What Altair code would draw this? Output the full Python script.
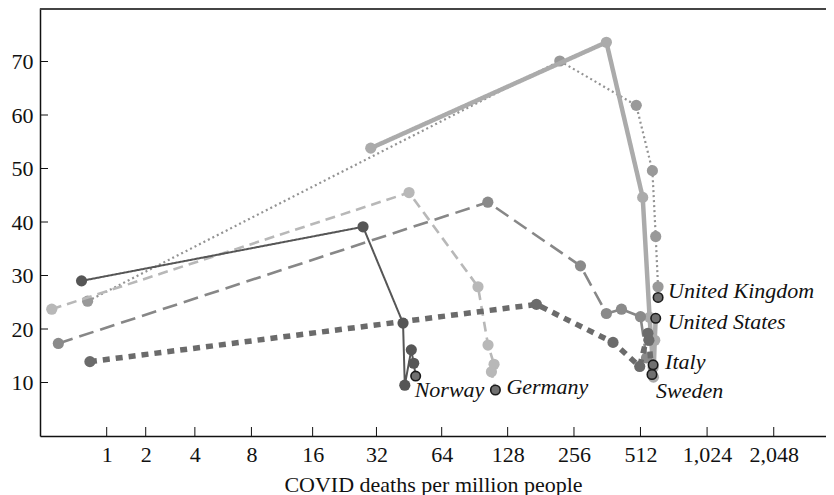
import altair as alt
import pandas as pd

countries = ["United Kingdom", "United States", "Germany", "Italy", "Sweden", "Norway"]

norway_x = [0.54, 27.7, 42.5, 43.3, 46.4, 47.6, 48.6]
norway_y = [29.0, 39.1, 21.1, 9.5, 16.1, 13.6, 11.2]

germany_x = [0.13, 45.3, 93.8, 104.2, 111.0, 108.0, 112.6]
germany_y = [23.7, 45.5, 27.9, 17.0, 13.4, 12.0, 8.6]

uk_x = [0.64, 220.8, 490.0, 579.6, 600.0, 614.6, 615.0]
uk_y = [25.2, 70.1, 61.8, 49.6, 37.3, 27.9, 25.9]

us_x = [30.1, 359.0, 524.0, 563.0, 584.0, 586.0, 594.0, 600.0]
us_y = [53.8, 73.6, 44.6, 22.2, 12.8, 11.0, 17.9, 22.0]

italy_x = [0.21, 104.0, 274.0, 359.0, 420.0, 512.0, 545.0, 584.0]
italy_y = [17.3, 43.7, 31.8, 22.9, 23.7, 22.3, 14.6, 13.3]

sweden_x = [0.68, 173.0, 384.6, 508.0, 553.0, 559.0, 577.0]
sweden_y = [13.9, 24.6, 17.5, 13.0, 19.2, 17.9, 11.5]

x_ticks = [1, 2, 4, 8, 16, 32, 64, 128, 256, 512, 1024, 2048]
y_ticks = [10, 20, 30, 40, 50, 60, 70]

series = {
    "Norway": (norway_x, norway_y),
    "Germany": (germany_x, germany_y),
    "United Kingdom": (uk_x, uk_y),
    "United States": (us_x, us_y),
    "Italy": (italy_x, italy_y),
    "Sweden": (sweden_x, sweden_y),
}

rows = []
for c, (xs, ys) in series.items():
    n = len(xs)
    for i, (xv, yv) in enumerate(zip(xs, ys)):
        rows.append({"country": c, "step": i, "deaths": xv, "value": yv, "last": i == n - 1})
df = pd.DataFrame(rows)

style = {
    "United Kingdom": dict(color="#939393", dash=[2, 3], width=2.2, pt="#999999"),
    "United States": dict(color="#ababab", dash=[1, 0], width=4.5, pt="#ababab"),
    "Germany": dict(color="#b8b8b8", dash=[10, 6], width=2.6, pt="#b8b8b8"),
    "Italy": dict(color="#878787", dash=[15, 7], width=2.6, pt="#8a8a8a"),
    "Sweden": dict(color="#6b6b6b", dash=[7, 6], width=5.5, pt="#6b6b6b"),
    "Norway": dict(color="#565656", dash=[1, 0], width=2.0, pt="#565656"),
}

W, H = 786, 428
FONT = "Liberation Serif"
FS = 22

xscale = alt.Scale(type="symlog", constant=1, domain=[0, 3526], nice=False, zero=False)
yscale = alt.Scale(domain=[0, 80], nice=False, zero=False)

xaxis = alt.Axis(values=x_ticks, format=",d", title="COVID deaths per million people",
                 ticks=False, grid=False, labelPadding=8, titlePadding=9,
                 labelFlush=False, labelOverlap=False)
yaxis = alt.Axis(values=y_ticks, title=None, ticks=False, grid=False, labelPadding=7)


def X(field="deaths"):
    return alt.X(f"{field}:Q", scale=xscale, axis=xaxis, title="COVID deaths per million people")


def Y(field="value"):
    return alt.Y(f"{field}:Q", scale=yscale, axis=yaxis, title=None)


layers = []
for c in countries:
    s = style[c]
    sub = alt.Chart(df).transform_filter(alt.datum.country == c)
    line = sub.mark_line(color=s["color"], strokeDash=s["dash"], strokeWidth=s["width"],
                         strokeCap="butt", strokeJoin="round").encode(
        x=X(), y=Y(), order="step:Q")
    pts = sub.transform_filter(alt.datum.last == False).mark_circle(
        color=s["pt"], opacity=1, size=125).encode(x=X(), y=Y())
    layers += [line, pts]

last_pts = alt.Chart(df).transform_filter(alt.datum.last == True).mark_point(
    filled=True, fill="#707070", stroke="#1a1a1a", strokeWidth=1.6, size=90, opacity=1
).encode(x=X(), y=Y())
layers.append(last_pts)

label_offsets = {
    "United Kingdom": (10, -6),
    "United States": (12, 4),
    "Italy": (12, -3),
    "Sweden": (4, 17),
    "Norway": (-1, 14),
    "Germany": (11, -3),
}
for c, (dx, dy) in label_offsets.items():
    t = alt.Chart(df).transform_filter((alt.datum.country == c) & (alt.datum.last == True)).mark_text(
        align="left", baseline="middle", dx=dx, dy=dy, font=FONT, fontSize=FS,
        fontStyle="italic", color="#111111"
    ).encode(x=X(), y=Y(), text="country:N")
    layers.append(t)

xt = pd.DataFrame({"deaths": x_ticks})
yt = pd.DataFrame({"value": y_ticks})
xtick_rules = alt.Chart(xt).mark_rule(color="#111111", strokeWidth=1).encode(
    x=X(), y=alt.value(H - 9), y2=alt.value(H))
ytick_rules = alt.Chart(yt).mark_rule(color="#111111", strokeWidth=1).encode(
    y=Y(), x=alt.value(0), x2=alt.value(8))
top_rule = alt.Chart(yt).mark_rule(color="#444444", strokeWidth=2).encode(
    y=alt.value(0.5), x=alt.value(0), x2=alt.value(W))

chart = alt.layer(*layers, xtick_rules, ytick_rules, top_rule).properties(
    width=W, height=H,
    autosize=alt.AutoSizeParams(type="none"),
    padding={"left": 32, "top": 0, "right": 0, "bottom": 60},
).configure_view(stroke=None).configure_axis(
    labelFont=FONT, labelFontSize=FS, labelColor="#111111",
    titleFont=FONT, titleFontSize=FS, titleFontWeight="normal", titleColor="#111111",
    domainColor="#111111", domainWidth=1.5,
)

chart.save("out.html", embed_options={"renderer": "svg", "actions": False})
